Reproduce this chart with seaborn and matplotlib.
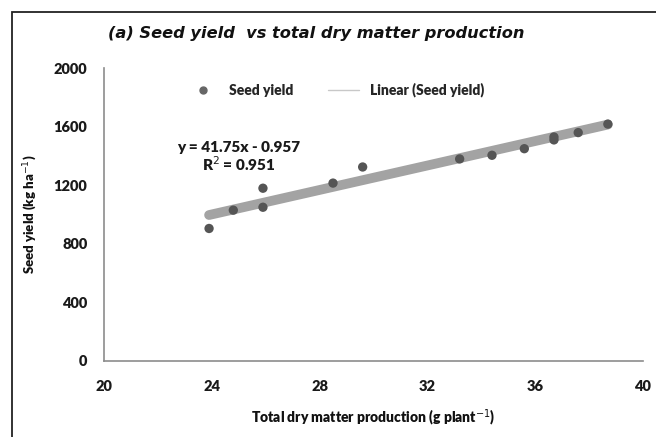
import numpy as np
import pandas as pd
import seaborn as sns
import matplotlib.pyplot as plt
from matplotlib.patches import Rectangle
from matplotlib.lines import Line2D

# data
tdm = [23.9, 24.8, 25.9, 25.9, 28.5, 29.6, 33.2, 34.4, 35.6, 36.7, 36.7, 37.6, 38.7]
seed_yield = [905, 1030, 1180, 1050, 1215, 1325, 1380, 1405, 1450, 1510, 1530, 1560, 1618]
slope = 41.75
intercept = -0.957
r2 = 0.951

df = pd.DataFrame({'tdm': tdm, 'yield': seed_yield})
xfit = np.array([min(tdm), max(tdm)])
fit = pd.DataFrame({'tdm': xfit, 'yield': slope * xfit + intercept})

sns.set_style('white')
plt.rcParams['font.family'] = ['Lato', 'DejaVu Sans']

fig = plt.figure(figsize=(6.56, 4.37), dpi=100)
ax = fig.add_axes([0.1585, 0.174, 0.8215, 0.67])

sns.lineplot(data=fit, x='tdm', y='yield', ax=ax, color='#a3a3a3',
             linewidth=7, solid_capstyle='round', zorder=2, legend=False)
sns.scatterplot(data=df, x='tdm', y='yield', ax=ax, color='#555555', s=45,
                edgecolor='none', zorder=3, legend=False)

ax.set_xlim(20, 40)
ax.set_ylim(0, 2000)
ax.set_xticks(range(20, 41, 4))
ax.set_yticks(range(0, 2001, 400))
ax.tick_params(length=0, labelsize=10.5)
for lab in ax.get_xticklabels() + ax.get_yticklabels():
    lab.set_fontweight('heavy')
    lab.set_color('#1a1a1a')
ax.tick_params(axis='x', pad=14)
ax.tick_params(axis='y', pad=12)

sns.despine(ax=ax)
for s in ['left', 'bottom']:
    ax.spines[s].set_color('#8c8c8c')
    ax.spines[s].set_linewidth(1.2)

ax.set_xlabel('Total dry matter production (g plant$^{-1}$)', fontsize=10,
              fontweight='heavy', labelpad=10, color='#111111')
ax.set_ylabel('Seed yield (kg ha$^{-1}$)', fontsize=9.5, fontweight='heavy',
              labelpad=10, color='#111111')

handles = [Line2D([], [], marker='o', linestyle='none', color='#666666', markersize=5),
           Line2D([], [], color='#c8c8c8', linewidth=1)]
ax.legend(handles, ['Seed yield', 'Linear (Seed yield)'], ncol=2, frameon=False,
          loc='center', bbox_to_anchor=(0.43, 0.925),
          prop={'weight': 'heavy', 'size': 10}, columnspacing=2.5,
          handlelength=2.2, handletextpad=0.8)

ax.text(25.0, 1395, 'y = 41.75x - 0.957\nR$^2$ = 0.951', ha='center', va='center',
        fontsize=11, fontweight='heavy', color='#1a1a1a', linespacing=1.0)

fig.text(0.482, 0.924, '(a) Seed yield  vs total dry matter production', ha='center',
         va='center', fontsize=11.7, fontweight='bold', fontstyle='italic',
         color='#111111', family='DejaVu Sans')

# outer frame (cropped on the right and bottom)
frame = Rectangle((12 / 656, -0.1), 1.2, 1 - 12 / 437 + 0.1, transform=fig.transFigure,
                  fill=False, edgecolor='#222222', linewidth=1.3, clip_on=False)
fig.patches.append(frame)

fig.savefig('out.png', dpi=100)
